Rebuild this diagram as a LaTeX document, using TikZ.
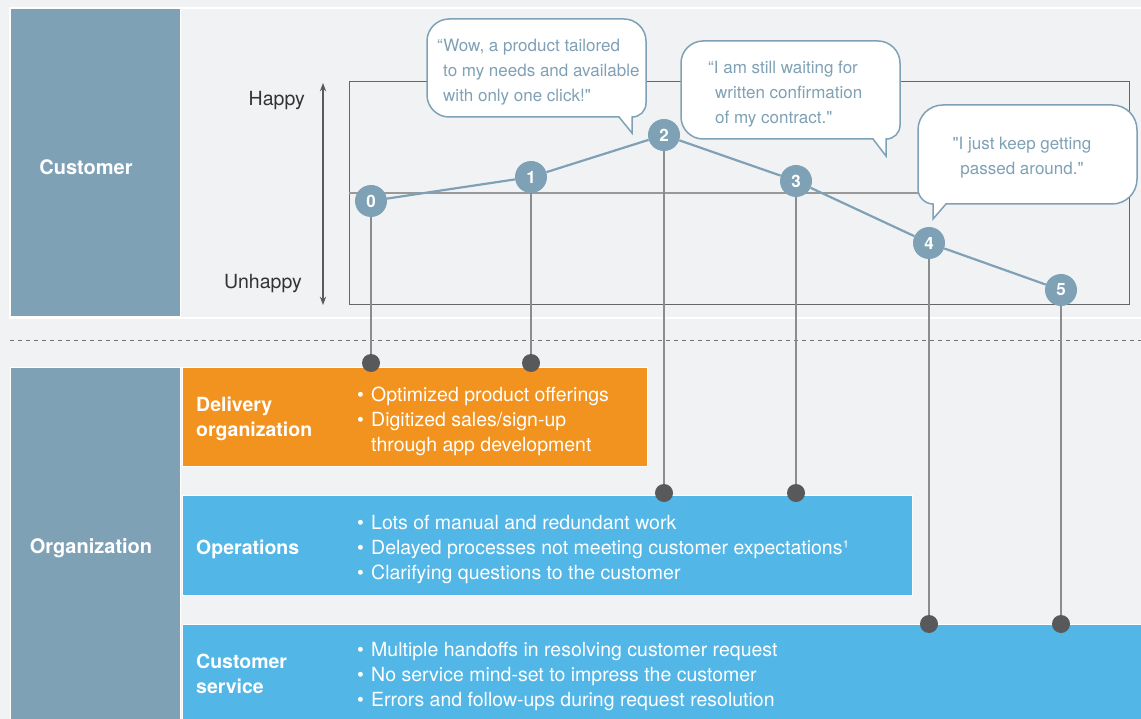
\documentclass[tikz,border=0pt]{standalone}
\usepackage{fontspec}
\setmainfont{TeX Gyre Heros}
\newfontfamily\quotefont{TeX Gyre Heros}
\usepackage{xcolor}
\usepackage{tikz}
\usetikzlibrary{arrows.meta, positioning}

\definecolor{steel}{HTML}{7FA1B6}
\definecolor{deliv}{HTML}{F2921F}
\definecolor{ops}{HTML}{52B6E7}
\definecolor{dotgrey}{HTML}{58595B}
\definecolor{bggrey}{HTML}{F1F2F4}
\definecolor{axisgrey}{HTML}{5A5A5A}

\pgfdeclarelayer{back}
\pgfdeclarelayer{wires}
\pgfsetlayers{back,wires,main}

\newcommand{\bul}{\makebox[14pt][l]{\textbullet}}
\newcommand{\nobul}{\hspace*{14pt}}

\begin{document}
\begin{tikzpicture}[x=1pt, y=-1pt, >=Stealth]

		% Define styles
		\tikzstyle{panel} = [rectangle, draw=white, line width=1.2pt, anchor=north west, inner sep=0pt]
		\tikzstyle{sidehead} = [text=white, font=\bfseries\fontsize{20}{25}\selectfont]
		\tikzstyle{bandhead} = [text=white, anchor=west, align=left, inner sep=0pt, font=\bfseries\fontsize{19.5}{25}\selectfont]
		\tikzstyle{bandlist} = [text=white, anchor=west, align=left, inner sep=0pt, font=\fontsize{19.5}{25}\selectfont]
		\tikzstyle{mood} = [text=black!80, anchor=east, inner sep=0pt, font=\fontsize{19.5}{25}\selectfont]
		\tikzstyle{stage} = [circle, fill=steel, text=white, minimum size=32pt, inner sep=0pt, font=\bfseries\fontsize{17}{20}\selectfont]
		\tikzstyle{dotmark} = [circle, fill=dotgrey, minimum size=18pt, inner sep=0pt]
		\tikzstyle{bubble} = [draw=steel, fill=white, line width=1.5pt]
		\tikzstyle{quote} = [text=steel, inner sep=0pt, font=\quotefont\fontsize{17}{25}\selectfont]
		\tikzstyle{journey} = [draw=steel, line width=2.2pt]
		\tikzstyle{wire} = [draw=black!45, line width=1.3pt]

		\useasboundingbox (0,0) rectangle (1141,719);

		% Background, panels and chart frame
		\begin{pgfonlayer}{back}
		\fill[bggrey] (0,0) rectangle (1141,719);
		\draw[white, line width=1.2pt] (10,8) rectangle (1160,318);
		\draw[black!60, line width=1pt] (349,82) rectangle (1129,305);
		\draw[black!40, line width=1.2pt] (349,193) -- (1129,193);
		\coordinate (axtop) at (323,83);
		\coordinate (axbot) at (323,305);
		\draw[<->, axisgrey, line width=1.2pt] (axtop) -- (axbot);
		\draw[black!55, dashed, dash pattern=on 4pt off 4pt, line width=0.8pt] (10,340) -- (1141,340);
		\end{pgfonlayer}

		% Side boxes
		\node[panel, fill=steel, minimum width=170, minimum height=308] (custbox) at (10,8) {};
		\node[sidehead] (custhead) at (86,167) {Customer};
		\node[panel, fill=steel, minimum width=170, minimum height=360] (orgbox) at (10,367) {};
		\node[sidehead] (orghead) at (91,548) {Organization};

		% Bands
		\node[panel, fill=deliv, minimum width=465, minimum height=99] (delivery) at (182,367) {};
		\node[panel, fill=ops, minimum width=730, minimum height=100] (operations) at (182,495) {};
		\node[panel, fill=ops, minimum width=970, minimum height=100] (service) at (182,624) {};

		\node[bandhead] (deliveryhead) at (196,419) {Delivery\\organization};
		\node[bandlist] (deliverylist) at (357,421) {\bul Optimized product offerings\\\bul Digitized sales/sign-up\\\nobul through\ app development};
		\node[bandhead] (operationshead) at (196,549) {Operations};
		\node[bandlist] (operationslist) at (357,549) {\bul Lots of manual and redundant work\\\bul Delayed processes not meeting customer expectations¹\\\bul Clarifying questions to the customer};
		\node[bandhead] (servicehead) at (196,674) {Customer\\service};
		\node[bandlist] (servicelist) at (357,676) {\bul Multiple handoffs in resolving customer request\\\bul No service mind-set to impress the customer\\\bul Errors and follow-ups during request resolution};

		% Mood labels
		\node[mood] (happy) at (305,101) {Happy};
		\node[mood] (unhappy) at (302,284) {Unhappy};

		% Speech bubbles
		\draw[bubble] (449,117) -- (619,117) -- (632,133) -- (632,117) .. controls (640,117) and (646,111) .. (646,103) -- (646,41) .. controls (646,29) and (636,19) .. (624,19) -- (449,19) .. controls (437,19) and (427,29) .. (427,41) -- (427,95) .. controls (427,107) and (437,117) .. (449,117) -- cycle;
		\node[quote, anchor=west, align=left] (q1) at (437,72) {“Wow, a product tailored\\\hspace*{6pt}to my needs and available\\\hspace*{6pt}with only one click!"};

		\draw[bubble] (703,139) -- (873,139) -- (886,156) -- (886,139) .. controls (894,139) and (900,133) .. (900,125) -- (900,63) .. controls (900,51) and (890,41) .. (878,41) -- (703,41) .. controls (691,41) and (681,51) .. (681,63) -- (681,117) .. controls (681,129) and (691,139) .. (703,139) -- cycle;
		\node[quote, anchor=west, align=left] (q2) at (708,94.5) {“I am still waiting for\\\hspace*{7pt}written confirmation\\\hspace*{7pt}of my contract."};

		\draw[bubble] (946,204) -- (933,219) -- (933,204) .. controls (925,204) and (918,197) .. (918,189) -- (918,130) .. controls (918,116) and (929,105) .. (943,105) -- (1112,105) .. controls (1126,105) and (1137,116) .. (1137,130) -- (1137,179) .. controls (1137,193) and (1126,204) .. (1112,204) -- cycle;
		\node[quote, align=center] (q3) at (1022,158) {"I just keep getting\\passed around."};

		% Journey stages and touch points
		\foreach \n/\x/\y in {0/371/201, 1/531/177, 2/664/135, 3/796/181, 4/929/243, 5/1061/290}
			\node[stage] (p\n) at (\x,\y) {\n};
		\foreach \n/\x/\y in {0/371/363, 1/531/363, 2/664/493, 3/796/493, 4/929/624, 5/1061/624}
			\node[dotmark] (d\n) at (\x,\y) {};

		% Connectors
		\begin{pgfonlayer}{wires}
		\draw[journey] (p0) -- (p1) -- (p2) -- (p3) -- (p4) -- (p5);
		\foreach \n in {0,...,5}
			\draw[wire] (p\n.center) -- (d\n.center);
		\end{pgfonlayer}

	\end{tikzpicture}
\end{document}
